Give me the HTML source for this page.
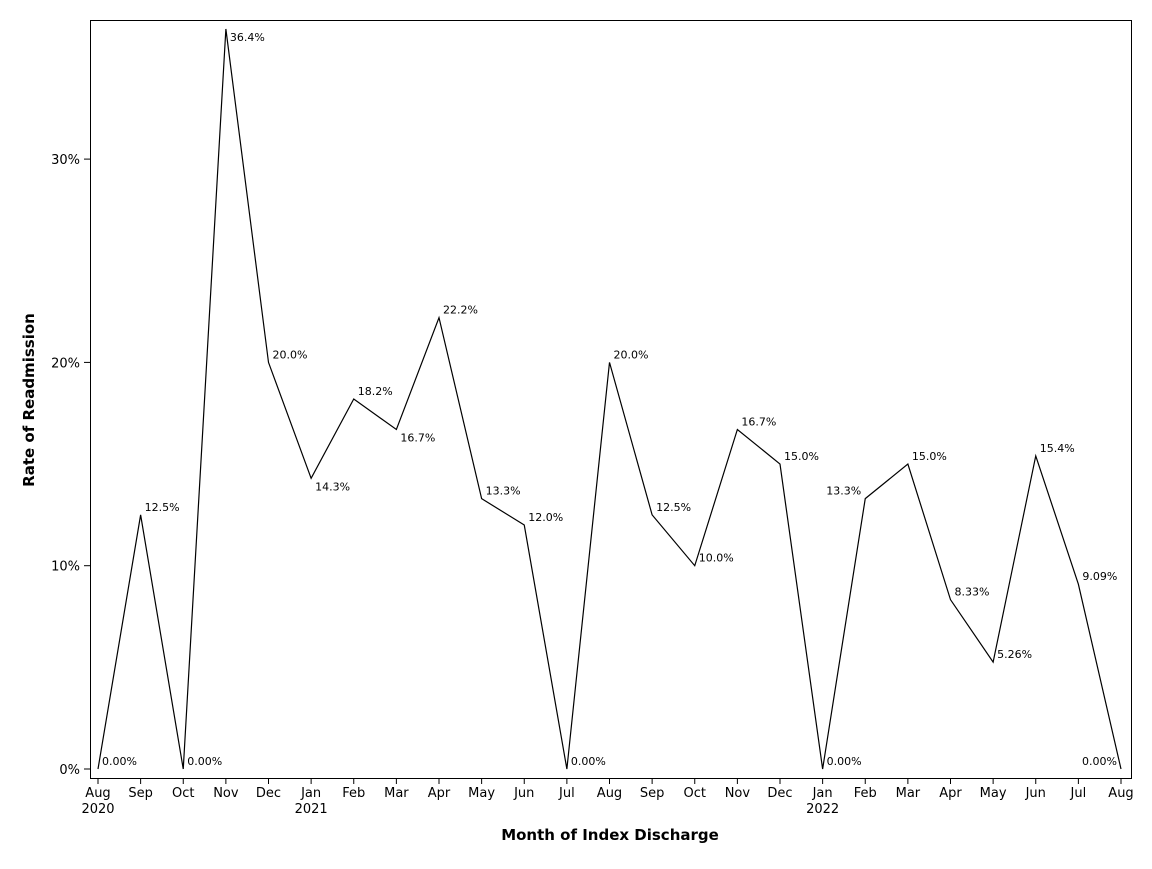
<!DOCTYPE html>
<html><head><meta charset="utf-8"><style>
body{margin:0;background:#fff}
svg text{font-family:"DejaVu Sans","Liberation Sans",sans-serif;fill:#000}
</style></head><body>
<svg id="chart" width="1152" height="864" xmlns="http://www.w3.org/2000/svg">
<rect x="90.5" y="20.5" width="1041" height="758" fill="none" stroke="#000"/>
<g id="axes"></g><g id="series"></g>
<text transform="translate(34,400) rotate(-90)" text-anchor="middle" font-size="15" font-weight="bold">Rate of Readmission</text>
<text x="610" y="840" text-anchor="middle" font-size="15" font-weight="bold">Month of Index Discharge</text>
</svg>
<script>
const months=["Aug","Sep","Oct","Nov","Dec","Jan","Feb","Mar","Apr","May","Jun","Jul","Aug","Sep","Oct","Nov","Dec","Jan","Feb","Mar","Apr","May","Jun","Jul","Aug"];
const years=["2020","","","","","2021","","","","","","","","","","","","2022","","","","","","",""];
const rates=[0,12.5,0,36.4,20.0,14.3,18.2,16.7,22.2,13.3,12.0,0,20.0,12.5,10.0,16.7,15.0,0,13.3,15.0,8.33,5.26,15.4,9.09,0];
const labels=["0.00%","12.5%","0.00%","36.4%","20.0%","14.3%","18.2%","16.7%","22.2%","13.3%","12.0%","0.00%","20.0%","12.5%","10.0%","16.7%","15.0%","0.00%","13.3%","15.0%","8.33%","5.26%","15.4%","9.09%","0.00%"];
const yTicks=[0,10,20,30];
const yTickLabels=["0%","10%","20%","30%"];
const place="aaabababaaaaaaaaaalaaaaal".split("");
const x=i=>98+i*(1121-98)/(months.length-1);
const y=v=>769-v*20.33;
const NS="http://www.w3.org/2000/svg";
const ax=document.getElementById("axes"),sr=document.getElementById("series");
function mk(tag,attrs,parent,txt){const e=document.createElementNS(NS,tag);for(const k in attrs)e.setAttribute(k,attrs[k]);if(txt!==undefined)e.textContent=txt;parent.appendChild(e);return e;}
yTicks.forEach((t,i)=>{
 const l=mk("line",{x1:84,x2:90,y1:y(t),y2:y(t),stroke:"#000"},ax);
 
 
 const tx=mk("text",{x:80,y:y(t)+5,"text-anchor":"end","font-size":13},ax,yTickLabels[i]);
 
 
});
months.forEach((m,i)=>{
 const l=mk("line",{x1:x(i),x2:x(i),y1:778,y2:784,stroke:"#000"},ax);
 
 
 const tx=mk("text",{x:x(i),y:797,"text-anchor":"middle","font-size":13},ax,m);
 
 
 if(years[i]){const yt=mk("text",{x:x(i),y:813,"text-anchor":"middle","font-size":13},ax,years[i]);
 
 }
});
const pl=mk("polyline",{points:rates.map((v,i)=>x(i)+","+y(v)).join(" "),fill:"none",stroke:"#000","stroke-width":1.2},sr);


rates.forEach((v,i)=>{
 const p=place[i];let tx=x(i)+4,ty=y(v)-4,anc="start";
 if(p==="b")ty=y(v)+12;
 if(p==="l"){tx=x(i)-4;anc="end";}
 const t=mk("text",{x:tx,y:ty,"text-anchor":anc,"font-size":11},sr,labels[i]);
 
 
});
</script>
</body></html>
